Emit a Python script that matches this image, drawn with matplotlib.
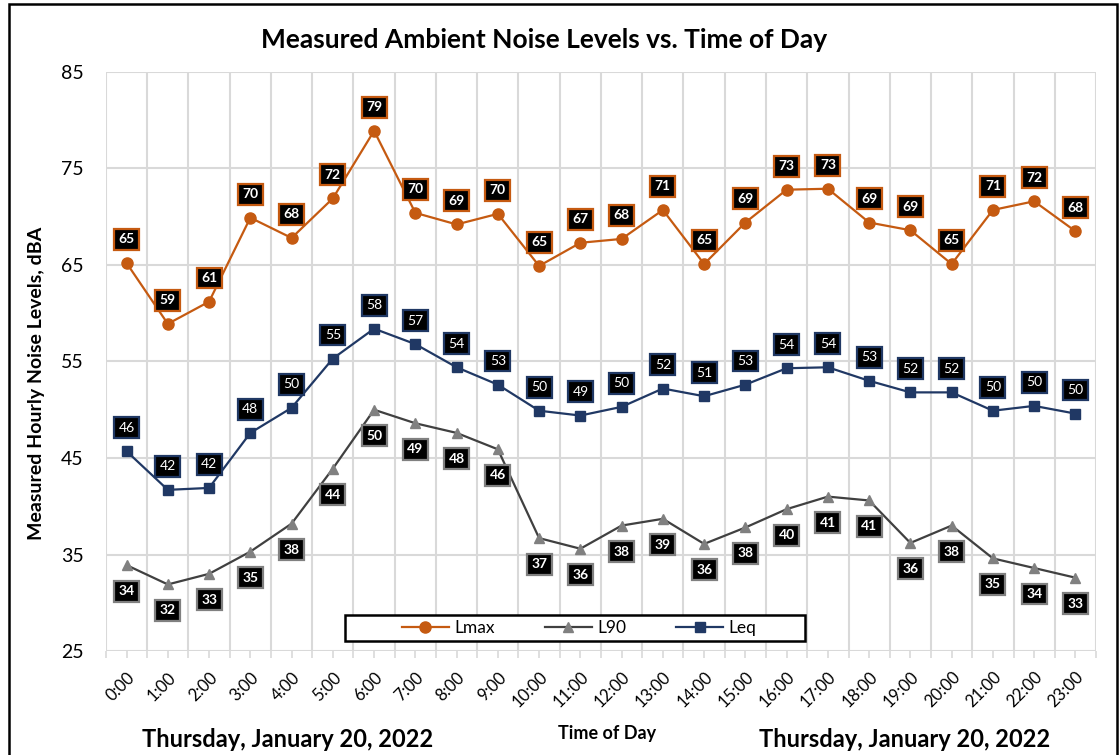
import numpy as np
import matplotlib.pyplot as plt
from matplotlib.patches import Rectangle

plt.rcParams['font.family'] = ['Lato', 'DejaVu Sans']

hours = ['0:00', '1:00', '2:00', '3:00', '4:00', '5:00', '6:00', '7:00', '8:00', '9:00',
         '10:00', '11:00', '12:00', '13:00', '14:00', '15:00', '16:00', '17:00', '18:00',
         '19:00', '20:00', '21:00', '22:00', '23:00']
lmax = [65.2, 58.9, 61.2, 69.9, 67.8, 71.9, 78.9, 70.4, 69.2, 70.3, 64.9, 67.3,
        67.7, 70.7, 65.1, 69.4, 72.8, 72.9, 69.4, 68.6, 65.1, 70.7, 71.6, 68.5]
l90 = [33.9, 31.9, 33.0, 35.3, 38.2, 43.9, 50.0, 48.6, 47.6, 45.9, 36.7, 35.6,
       38.0, 38.7, 36.1, 37.8, 39.7, 41.0, 40.6, 36.2, 38.0, 34.6, 33.6, 32.6]
leq = [45.7, 41.7, 41.9, 47.6, 50.2, 55.3, 58.4, 56.8, 54.4, 52.6, 49.9, 49.4,
       50.3, 52.2, 51.4, 52.6, 54.3, 54.4, 53.0, 51.8, 51.8, 49.9, 50.4, 49.6]
date_label = 'Thursday, January 20, 2022'

c_lmax = '#c55a11'
c_l90 = '#404040'
c_l90_mk = '#808080'
c_leq = '#203864'

fig = plt.figure(figsize=(11.2, 7.55), dpi=100)
ax = fig.add_axes([0.0946, 0.1377, 0.884, 0.767])
x = np.arange(len(hours))

ax.plot(x, lmax, color=c_lmax, lw=1.6, marker='o', ms=8, label='Lmax', zorder=3)
ax.plot(x, l90, color=c_l90, lw=1.6, marker='^', ms=7.5, mfc=c_l90_mk, mec=c_l90_mk,
        label='L90', zorder=3)
ax.plot(x, leq, color=c_leq, lw=1.6, marker='s', ms=7, label='Leq', zorder=3)

# data labels in boxes
def add_labels(vals, edge, dy, weight):
    for xi, v in zip(x, vals):
        ax.annotate(f'{v:.0f}', (xi, v), xytext=(0, dy), textcoords='offset points',
                    ha='center', va='center', color='white', fontsize=10,
                    fontweight=weight, zorder=5,
                    bbox=dict(boxstyle='square,pad=0.32', fc='black', ec=edge, lw=1.6))

add_labels(lmax, c_lmax, 17, 'bold')
add_labels(leq, c_leq, 17, 'normal')
add_labels(l90, c_l90_mk, -18.7, 'bold')

ax.set_xlim(-0.5, 23.5)
ax.set_ylim(25, 85)
ax.set_yticks(np.arange(25, 86, 10))
ax.set_xticks(x)
ax.set_xticks(np.arange(-0.5, 24, 1), minor=True)
ax.set_xticklabels(hours, rotation=45, ha='right', rotation_mode='anchor', fontsize=12)
ax.tick_params(axis='x', which='both', length=5, color='#d9d9d9', width=1.2, pad=8)
ax.tick_params(axis='y', length=0, labelsize=14, pad=16)
ax.grid(True, axis='y', color='#d9d9d9', lw=1.5, zorder=0)
ax.grid(True, axis='x', which='minor', color='#d9d9d9', lw=1.5, zorder=0)
ax.grid(False, axis='x', which='major')
for s in ax.spines.values():
    s.set_visible(False)

fig.text(0.033, 0.4927, 'Measured Hourly Noise Levels, dBA', rotation=90, ha='center',
         va='center', fontsize=14, fontweight='bold')
fig.text(0.486, 0.947, 'Measured Ambient Noise Levels vs. Time of Day', ha='center',
         va='center', fontsize=19, fontweight='bold')

# legend: own frame, entries centred inside
ax.add_patch(Rectangle((0.2414, 0.0173), 0.4646, 0.0449, transform=ax.transAxes,
                       fill=True, fc='white', ec='black', lw=1.8, zorder=6))
leg = ax.legend(loc='center', bbox_to_anchor=(0.478, 0.040), ncol=3, frameon=False,
                fontsize=12.5, handlelength=2.7, handletextpad=0.3, columnspacing=2.9,
                borderpad=0)
leg.set_zorder(7)

fig.text(0.542, 0.029, 'Time of Day', ha='center', va='center', fontsize=13, fontweight='bold')
fig.text(0.257, 0.021, date_label, ha='center', va='center', fontsize=17, fontweight='bold')
fig.text(0.808, 0.021, date_label, ha='center', va='center', fontsize=17, fontweight='bold')

fig.add_artist(Rectangle((0.008, -0.02), 0.989, 1.015, transform=fig.transFigure,
                         fill=False, ec='black', lw=1.8))

fig.savefig('out.png', dpi=100)
